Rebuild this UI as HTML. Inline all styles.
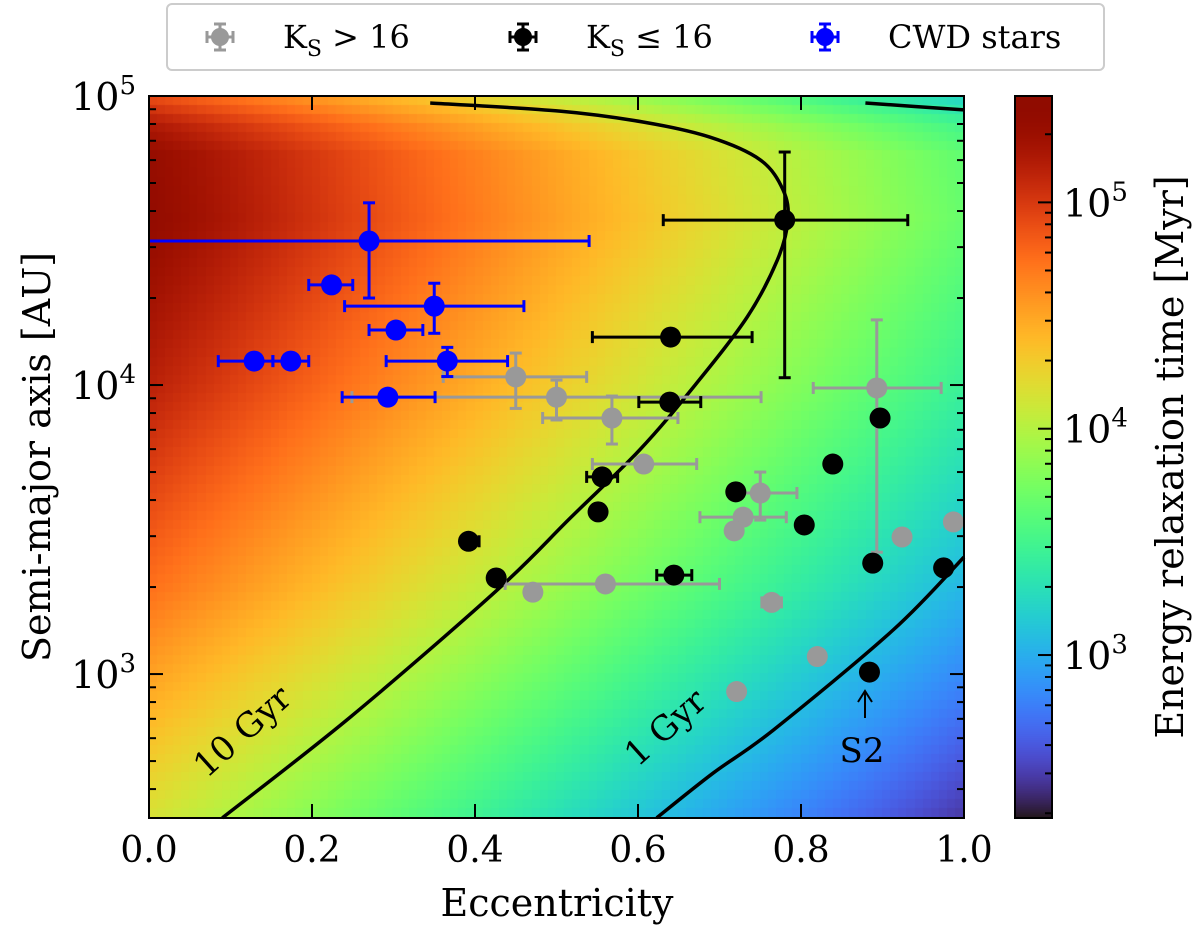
<!DOCTYPE html>
<html><head><meta charset="utf-8">
<style>
html,body{margin:0;padding:0;background:#fff;width:1200px;height:932px;overflow:hidden}
#wrap{position:relative;width:1200px;height:932px}
#heat{position:absolute;left:149px;top:96px}
#cbar{position:absolute;left:1015px;top:96px}
svg{position:absolute;left:0;top:0}
text{font-family:"DejaVu Serif","Liberation Serif",serif;fill:#000}
</style></head>
<body>
<div id="wrap">
<canvas id="heat" width="815" height="722"></canvas>
<canvas id="cbar" width="37" height="722"></canvas>
<svg id="svg" width="1200" height="932" xmlns="http://www.w3.org/2000/svg"></svg>
</div>
<script>
// ---- data ----
const cwdE=[0.27,0.224,0.350,0.303,0.129,0.174,0.366,0.293];
const cwdA=[31500,22200,18750,15500,12100,12100,12100,9080];
const cwdElo=[0.0,0.196,0.240,0.270,0.085,0.152,0.291,0.237];
const cwdEhi=[0.54,0.25,0.46,0.336,0.152,0.196,0.44,0.351];
const cwdAlo=[20000,22200,15100,15500,12100,12100,10700,9080];
const cwdAhi=[42700,22200,22500,15500,12100,12100,13500,9080];

const brtE=[0.780,0.640,0.639,0.392,0.426,0.556,0.551,0.644,0.720,0.839,0.804,0.888,0.975,0.884,0.897];
const brtA=[37200,14650,8730,2880,2150,4810,3640,2200,4270,5330,3280,2420,2330,1016,7690];
const brtElo=[0.631,0.544,0.601,0.385,0.426,0.537,0.551,0.623,0.712,0.839,0.804,0.888,0.975,0.884,0.897];
const brtEhi=[0.931,0.740,0.677,0.405,0.426,0.575,0.551,0.666,0.728,0.839,0.804,0.888,0.975,0.884,0.897];
const brtAlo=[10600,13900,8730,2880,2150,4810,3640,2200,4270,5330,3280,2420,2330,1016,7690];
const brtAhi=[64000,15400,8730,2880,2150,4810,3640,2200,4270,5330,3280,2420,2330,1016,7690];

const fntE=[0.450,0.500,0.568,0.893,0.607,0.750,0.729,0.718,0.560,0.471,0.764,0.924,0.987,0.820,0.721];
const fntA=[10670,9080,7690,9770,5330,4230,3490,3130,2050,1920,1770,2980,3360,1150,870];
const fntElo=[0.361,0.249,0.483,0.815,0.544,0.717,0.676,0.718,0.437,0.462,0.752,0.924,0.980,0.820,0.721];
const fntEhi=[0.537,0.751,0.649,0.972,0.672,0.795,0.782,0.718,0.700,0.480,0.776,0.924,0.995,0.820,0.721];
const fntAlo=[8300,7570,6250,2640,5330,3410,3490,3130,2050,1920,1770,2980,3200,1150,870];
const fntAhi=[12900,10400,9160,16800,5330,5000,3490,3130,2050,1920,1770,2980,3520,1150,870];

const c10E=[0.090,0.247,0.427,0.517,0.602,0.668,0.734,0.771,0.784,0.778,0.750,0.688,0.606,0.504,0.345];
const c10A=[318,710,1950,3470,5960,9840,17200,27100,37200,47300,60100,72100,81300,88700,94600];
const c1E=[0.623,0.692,0.766,0.913,1.0];
const c1A=[318,454,640,1420,2540];
const c1bE=[0.879,1.0];
const c1bA=[94600,89500];

const xTicks=[0,0.2,0.4,0.6,0.8,1.0];
const xTickLabels=["0.0","0.2","0.4","0.6","0.8","1.0"];
const yTicks=[3,4,5];
const cbTicks=[3,4,5];

// ---- geometry ----
const X0=149,X1=964,Y0=818,Y1=96,LMIN=2.502,LMAX=5.0;
const xs=e=>X0+(X1-X0)*e;
const ys=a=>Y0-(Math.log10(a)-LMIN)/(LMAX-LMIN)*(Y0-Y1);
const CT=96,CB=818,CLMIN=2.28,CLMAX=5.47;
const cy=l=>CB-(l-CLMIN)/(CLMAX-CLMIN)*(CB-CT);

function turbo(x){x=Math.max(0,Math.min(1,x));
const r=0.13572138+x*(4.61539260+x*(-42.66032258+x*(132.13108234+x*(-152.94239396+x*59.28637943))));
const g=0.09140261+x*(2.19418839+x*(4.84296658+x*(-14.18503333+x*(4.27729857+x*2.82956604))));
const b=0.10667330+x*(12.64194608+x*(-60.58204836+x*(110.36276771+x*(-89.90310912+x*27.34824973))));
const c=v=>Math.round(255*Math.max(0,Math.min(1,v)));return `rgb(${c(r)},${c(g)},${c(b)})`;}

const gL=[2.5,3.3,4.0,4.57,4.8,4.9,5.0];
const gV=[4.15,4.75,5.15,5.38,5.35,5.2,4.9];
function G(l){if(l<=gL[0])return gV[0];for(let i=1;i<gL.length;i++){if(l<=gL[i]){const t=(l-gL[i-1])/(gL[i]-gL[i-1]);return gV[i-1]+t*(gV[i]-gV[i-1]);}}return gV[gV.length-1];}
// heatmap
(function(){const c=document.getElementById('heat').getContext('2d');
const NX=100,NY=80,W=815,H=722;
for(let i=0;i<NX;i++)for(let j=0;j<NY;j++){
const e=(i+0.5)/NX;const l=LMAX-(j+0.5)/NY*(LMAX-LMIN);
const v=G(l)-1.7*e;c.fillStyle=turbo((v-CLMIN)/(CLMAX-CLMIN));
c.fillRect(Math.floor(i*W/NX),Math.floor(j*H/NY),Math.ceil(W/NX)+1,Math.ceil(H/NY)+1);}
const cb=document.getElementById('cbar').getContext('2d');
for(let j=0;j<722;j++){cb.fillStyle=turbo(1-j/721);cb.fillRect(0,j,37,1);}
})();

const svg=document.getElementById('svg');const NS='http://www.w3.org/2000/svg';
function mk(tag,attrs,parent){const el=document.createElementNS(NS,tag);for(const k in attrs)el.setAttribute(k,attrs[k]);(parent||svg).appendChild(el);return el;}
function txt(x,y,s,size,anchor,parent){const t=mk('text',{x:x,y:y,'font-size':size,'text-anchor':anchor||'middle'},parent);t.textContent=s;return t;}

// contours (Catmull-Rom smoothing)
function curve(E,A,name){const P=E.map((e,i)=>[xs(e),ys(A[i])]);
let d='M'+P[0][0].toFixed(1)+','+P[0][1].toFixed(1);
for(let i=0;i<P.length-1;i++){const p0=P[Math.max(0,i-1)],p1=P[i],p2=P[i+1],p3=P[Math.min(P.length-1,i+2)];
const c1=[p1[0]+(p2[0]-p0[0])/6,p1[1]+(p2[1]-p0[1])/6],c2=[p2[0]-(p3[0]-p1[0])/6,p2[1]-(p3[1]-p1[1])/6];
d+=' C'+c1[0].toFixed(1)+','+c1[1].toFixed(1)+' '+c2[0].toFixed(1)+','+c2[1].toFixed(1)+' '+p2[0].toFixed(1)+','+p2[1].toFixed(1);}
const p=mk('path',{d:d,fill:'none',stroke:'#000','stroke-width':3.5,'stroke-linejoin':'round'});

}
curve(c10E,c10A,'contour-10-gyr');curve(c1E,c1A,'contour-1-gyr');curve(c1bE,c1bA,'contour-1-gyr-top');
let t=txt(0,0,'10 Gyr',34,'middle');t.setAttribute('transform','translate(250,740) rotate(-42)');

t=txt(0,0,'1 Gyr',34,'middle');t.setAttribute('transform','translate(673,736) rotate(-42)');


// error bars
function series(E,A,Elo,Ehi,Alo,Ahi,col,name){const g=mk('g',{});

for(let i=0;i<E.length;i++){const x=xs(E[i]),y=ys(A[i]);const pt=mk('g',{},g);

const x1=Math.max(X0+1,xs(Elo[i])),x2=xs(Ehi[i]);
if(x2-x1>1){mk('line',{x1:x1,x2:x2,y1:y,y2:y,stroke:col,'stroke-width':3},pt);
if(Elo[i]>0)mk('line',{x1:x1,x2:x1,y1:y-6,y2:y+6,stroke:col,'stroke-width':3},pt);
mk('line',{x1:x2,x2:x2,y1:y-6,y2:y+6,stroke:col,'stroke-width':3},pt);}
const y1=ys(Ahi[i]),y2=ys(Alo[i]);
if(y2-y1>1){mk('line',{x1:x,x2:x,y1:y1,y2:y2,stroke:col,'stroke-width':3},pt);
mk('line',{x1:x-6,x2:x+6,y1:y1,y2:y1,stroke:col,'stroke-width':3},pt);
mk('line',{x1:x-6,x2:x+6,y1:y2,y2:y2,stroke:col,'stroke-width':3},pt);}
mk('circle',{cx:x,cy:y,r:10.5,fill:col},pt);}}
series(fntE,fntA,fntElo,fntEhi,fntAlo,fntAhi,'#999999','faint-stars');
series(brtE,brtA,brtElo,brtEhi,brtAlo,brtAhi,'#000000','bright-stars');
series(cwdE,cwdA,cwdElo,cwdEhi,cwdAlo,cwdAhi,'#0000ff','cwd-stars');

// S2 annotation
const ann=mk('g',{});
mk('line',{x1:865,x2:865,y1:718,y2:693,stroke:'#000','stroke-width':2},ann);
mk('path',{d:'M858,702 L865,691 L872,702',fill:'none',stroke:'#000','stroke-width':2},ann);
txt(862,762,'S2',34,'middle',ann);

// frame & ticks
const fr=mk('rect',{x:X0,y:Y1,width:X1-X0,height:Y0-Y1,fill:'none',stroke:'#000','stroke-width':2});

const xt=mk('g',{});
xTicks.forEach((v,i)=>{const x=xs(v);
mk('line',{x1:x,x2:x,y1:Y0,y2:Y0-14,stroke:'#000','stroke-width':2},xt);
mk('line',{x1:x,x2:x,y1:Y1,y2:Y1+14,stroke:'#000','stroke-width':2},xt);
txt(x,862,xTickLabels[i],36,'middle',xt);});
const yt=mk('g',{});
for(let d=2;d<=5;d++)for(let m=1;m<=9;m++){const l=d+Math.log10(m);if(l<LMIN-1e-6||l>LMAX+1e-6)continue;
const y=ys(Math.pow(10,l)),len=m==1?14:7;
mk('line',{x1:X0,x2:X0+len,y1:y,y2:y,stroke:'#000','stroke-width':2},yt);
mk('line',{x1:X1,x2:X1-len,y1:y,y2:y,stroke:'#000','stroke-width':2},yt);}
yTicks.forEach(p=>{const y=ys(Math.pow(10,p));const tt=txt(136,y+14,'',38,'end',yt);
tt.innerHTML='10<tspan font-size="26" dy="-16">'+p+'</tspan>';});
t=txt(0,0,'Eccentricity',38,'middle');t.setAttribute('x',557);t.setAttribute('y',916);

t=txt(0,0,'Semi-major axis [AU]',38,'middle');t.setAttribute('transform','translate(50,457) rotate(-90)');


// colorbar
const cbg=mk('g',{});
mk('rect',{x:1015,y:CT,width:37,height:CB-CT,fill:'none',stroke:'#000','stroke-width':2},cbg);
for(let d=2;d<=5;d++)for(let m=1;m<=9;m++){const l=d+Math.log10(m);if(l<CLMIN||l>CLMAX)continue;
const y=cy(l),len=m==1?14:7;mk('line',{x1:1052,x2:1052-len,y1:y,y2:y,stroke:'#000','stroke-width':2},cbg);}
cbTicks.forEach(p=>{const tt=txt(1063,cy(p)+14,'',38,'start',cbg);
tt.innerHTML='10<tspan font-size="26" dy="-16">'+p+'</tspan>';});
t=txt(0,0,'Energy relaxation time [Myr]',38,'middle');t.setAttribute('transform','translate(1183,457) rotate(-90)');


// legend
const lg=mk('g',{});
mk('rect',{x:167,y:4,width:937,height:66,rx:5,fill:'#fff',stroke:'#ccc','stroke-width':2},lg);
function lentry(x,col,html,name){const g=mk('g',{},lg);
mk('line',{x1:x-13,x2:x+13,y1:37,y2:37,stroke:col,'stroke-width':3},g);
mk('line',{x1:x,x2:x,y1:24,y2:50,stroke:col,'stroke-width':3},g);
[[x-13,x-13,31,43],[x+13,x+13,31,43],[x-6,x+6,24,24],[x-6,x+6,50,50]].forEach(a=>mk('line',{x1:a[0],x2:a[1],y1:a[2],y2:a[3],stroke:col,'stroke-width':3},g));
mk('circle',{cx:x,cy:37,r:9,fill:col},g);
const tt=txt(x+63,48,'',32,'start',g);tt.innerHTML=html;}
lentry(220,'#999999','K<tspan font-size="22" dy="8">S</tspan><tspan dy="-8"> &gt; 16</tspan>','legend-faint');
lentry(523,'#000000','K<tspan font-size="22" dy="8">S</tspan><tspan dy="-8"> ≤ 16</tspan>','legend-bright');
lentry(825,'#0000ff','CWD stars','legend-cwd');
</script>
</body></html>
